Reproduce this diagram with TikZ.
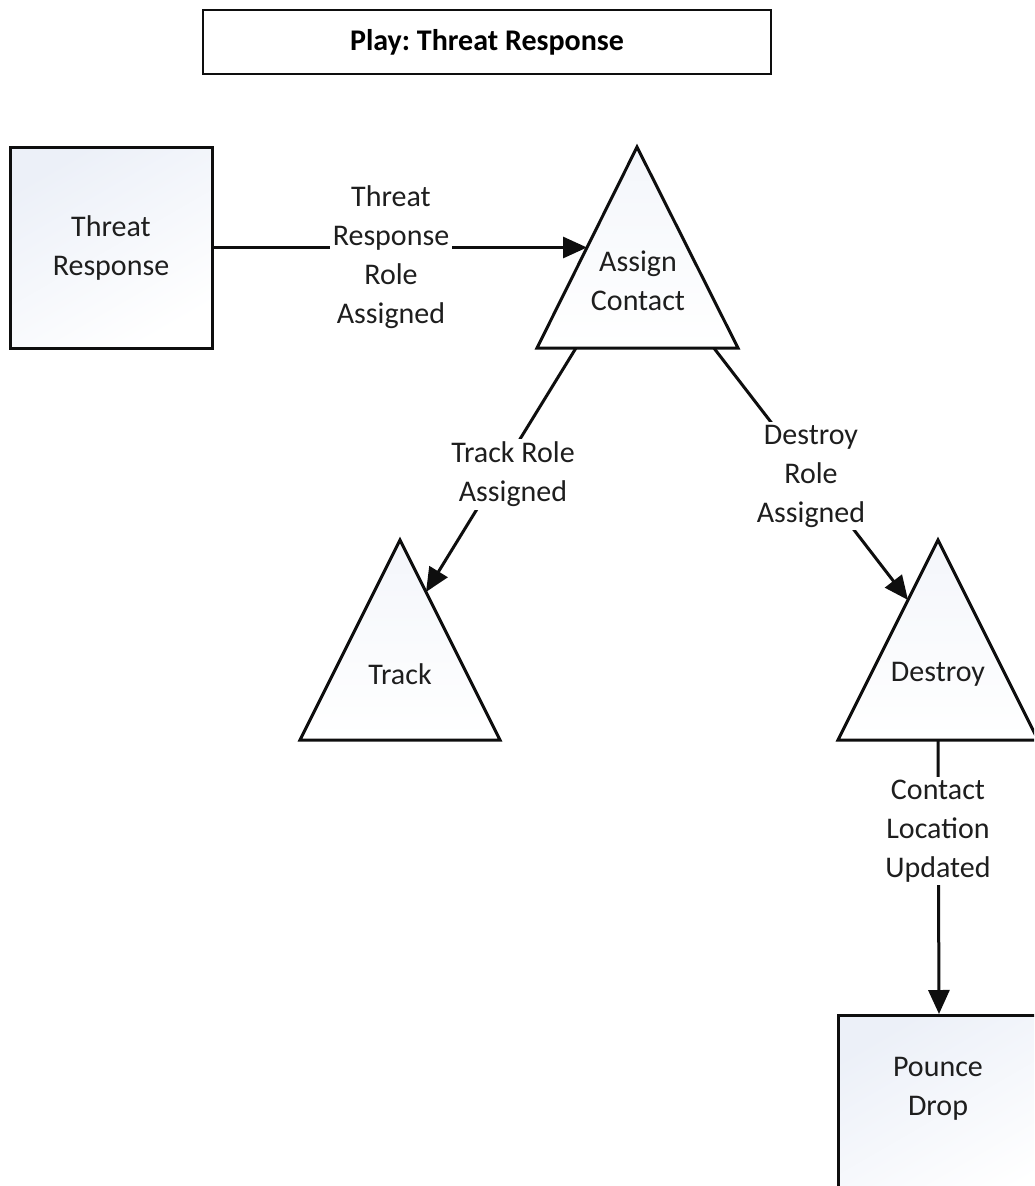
\documentclass[tikz,border=0pt]{standalone}
\usepackage{fontspec}
\setmainfont{Carlito}
\usetikzlibrary{arrows.meta,calc}
\frenchspacing
\definecolor{inkline}{HTML}{0E0E0E}
\definecolor{inktext}{HTML}{1E1E1E}
\definecolor{paleblue}{HTML}{ECF0F8}
\begin{document}
\begin{tikzpicture}[x=1pt,y=-1pt,
  txt/.style={font=\fontsize{30}{39}\selectfont, text=inktext, align=center, inner sep=2pt},
  lbl/.style={txt, fill=white, inner sep=3pt},
  blockbox/.style={draw=inkline, line width=3pt, minimum width=202pt, minimum height=201pt,
    top color=paleblue, bottom color=white, shading angle=30, txt},
  tri/.style={draw=inkline, line width=3pt, line join=miter, top color=paleblue!60, bottom color=white},
  link/.style={draw=inkline, line width=3pt},
  arr/.style={link, -{Triangle[length=24pt,width=21pt]}}
]
\useasboundingbox (0,0) rectangle (1034,1186);
\clip (0,0) rectangle (1034,1186);
\fill[white] (0,0) rectangle (1034,1186);

% title banner
\node[draw=inkline, line width=1.5pt, minimum width=568pt, minimum height=64pt,
  font=\fontsize{30}{39}\selectfont\bfseries, text=black] (title) at (487,42) {Play: Threat Response};

% rectangular blocks
\node[blockbox] (threat) at (111,247.5) {Threat\\Response};
\node[blockbox] (pounce) at (939,1116) {};
\node[txt] (pouncetxt) at (938,1089) {Pounce\\Drop};

% triangular tasks
\coordinate (ac-top) at (637,147);
\coordinate (ac-bl) at (537,348);
\coordinate (ac-br) at (738,348);
\path[tri] (ac-top) -- (ac-br) -- (ac-bl) -- cycle;
\node[txt] (assign) at (638,281) {Assign\\Contact};

\coordinate (tr-top) at (400,540);
\coordinate (tr-bl) at (300,740);
\coordinate (tr-br) at (500,740);
\path[tri] (tr-top) -- (tr-br) -- (tr-bl) -- cycle;
\node[txt] (track) at (400,674) {Track};

\coordinate (de-top) at (938,540);
\coordinate (de-bl) at (838,740);
\coordinate (de-br) at (1038,740);
\path[tri] (de-top) -- (de-br) -- (de-bl) -- cycle;
\node[txt] (destroy) at (938,674) {Destroy};

% attachment points on the triangle edges
\coordinate (ac-in) at ($(ac-top)!0.5!(ac-bl)$);
\coordinate (ac-out1) at ($(ac-bl)!0.194!(ac-br)$);
\coordinate (ac-out2) at ($(ac-bl)!0.88!(ac-br)$);
\coordinate (tr-in) at ($(tr-top)!0.26!(tr-br)$);
\coordinate (de-in) at ($(de-top)!0.30!(de-bl)$);
\coordinate (de-out) at ($(de-bl)!0.5!(de-br)$);

% connectors
\draw[arr] (threat.east) -- (ac-in);
\draw[arr] (ac-out1) -- (tr-in);
\draw[arr] (ac-out2) -- (de-in);
\draw[arr] (de-out) -- (pounce.north);

% connector labels
\node[lbl] (l1) at (391,257) {Threat\\Response\\Role\\Assigned};
\node[lbl] (l2) at (513,474) {Track Role\\Assigned};
\node[lbl] (l3) at (811,476) {Destroy\\Role\\Assigned};
\node[lbl] (l4) at (938,831) {Contact\\Location\\Updated};
\end{tikzpicture}
\end{document}
